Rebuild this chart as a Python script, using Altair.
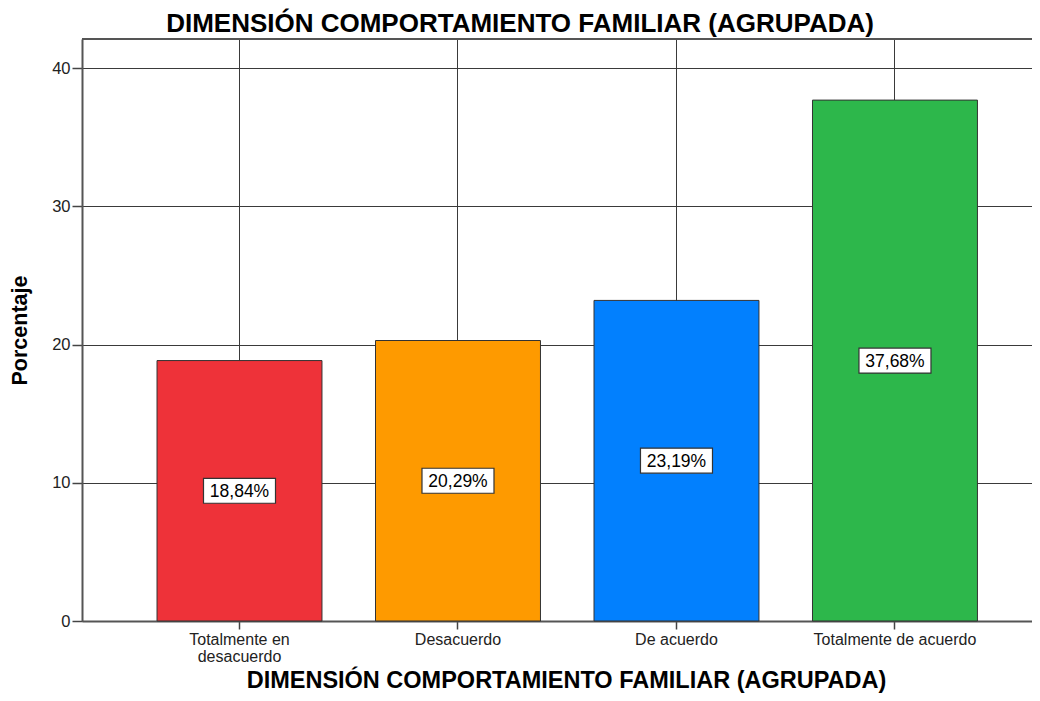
import altair as alt
import pandas as pd

categories = ["Totalmente en desacuerdo", "Desacuerdo", "De acuerdo", "Totalmente de acuerdo"]
values = [18.84, 20.29, 23.19, 37.68]
colors = ["#EE3239", "#FE9A00", "#0280FE", "#2DB74B"]
y_ticks = [0, 10, 20, 30, 40]
title_text = "DIMENSIÓN COMPORTAMIENTO FAMILIAR (AGRUPADA)"

labels = [f"{v:.2f}".replace(".", ",") + "%" for v in values]
df = pd.DataFrame({"cat": categories, "val": values, "half": [v / 2 for v in values], "lab": labels})

FONT = "Liberation Sans"
W, H = 950, 582

xscale = alt.Scale(domain=categories, paddingInner=0.245, paddingOuter=0.2965, align=0.579)
yscale = alt.Scale(domain=[0, 42.1], nice=False, zero=True)

x_enc = alt.X(
    "cat:N", sort=categories, scale=xscale,
    axis=alt.Axis(
        title=title_text, titleFont=FONT, titleFontSize=23.5, titleFontWeight="bold", titleColor="#000",
        titleX=484, titleY=59, titleBaseline="middle", titleAlign="center",
        labelFont=FONT, labelFontSize=16, labelColor="#222", labelAngle=0, labelPadding=2,
        labelExpr="datum.label == 'Totalmente en desacuerdo' ? ['Totalmente en', 'desacuerdo'] : datum.label",
        labelLineHeight=17,
        tickSize=8, tickColor="#444", tickWidth=1.5,
        domainColor="#555", domainWidth=2,
        grid=True, gridColor="#3a3a3a", gridWidth=1, gridOpacity=1, bandPosition=0.5,
    ),
)
y_enc = alt.Y(
    "val:Q", scale=yscale,
    axis=alt.Axis(
        values=y_ticks, title="Porcentaje", titleFont=FONT, titleFontSize=21.5, titleFontWeight="bold",
        titleColor="#000", titleX=-62, titleY=H / 2, titleAngle=270, titleBaseline="middle", titleAlign="center",
        labelFont=FONT, labelFontSize=16.5, labelColor="#222", labelPadding=2,
        tickSize=10, tickColor="#444", tickWidth=1.5,
        domainColor="#555", domainWidth=2,
        grid=True, gridColor="#3a3a3a", gridWidth=1, gridOpacity=1,
    ),
)

bars = alt.Chart(df).mark_bar(stroke="#333", strokeWidth=1, opacity=1).encode(
    x=x_enc,
    y=y_enc,
    color=alt.Color("cat:N", scale=alt.Scale(domain=categories, range=colors), legend=None),
)

top_rule = alt.Chart(df).mark_rule(color="#555", strokeWidth=2).encode(
    x=alt.value(0), x2=alt.value(W), y=alt.value(0)
)

boxes = alt.Chart(df).mark_point(
    shape="M-1,-0.347L1,-0.347L1,0.347L-1,0.347Z", size=72 * 72, filled=True,
    fill="white", stroke="#333", strokeWidth=1.2, opacity=1,
).encode(
    x=alt.X("cat:N", sort=categories, scale=xscale),
    y=alt.Y("half:Q", scale=yscale),
)

texts = alt.Chart(df).mark_text(font=FONT, fontSize=17.5, color="#000", align="center", baseline="middle", dy=1).encode(
    x=alt.X("cat:N", sort=categories, scale=xscale),
    y=alt.Y("half:Q", scale=yscale),
    text="lab:N",
)

chart = alt.layer(bars, top_rule, boxes, texts).properties(
    width=W, height=H,
    title=alt.TitleParams(title_text, font=FONT, fontSize=26, fontWeight="bold", color="#000",
                          anchor="middle", dx=-37, offset=1),
    autosize=alt.AutoSizeParams(type="none"),
    padding={"left": 74, "top": 31, "right": 0, "bottom": 72},
).configure_view(stroke=None).configure(background="white")

chart.save("out.html", embed_options={"renderer": "svg", "actions": False})
